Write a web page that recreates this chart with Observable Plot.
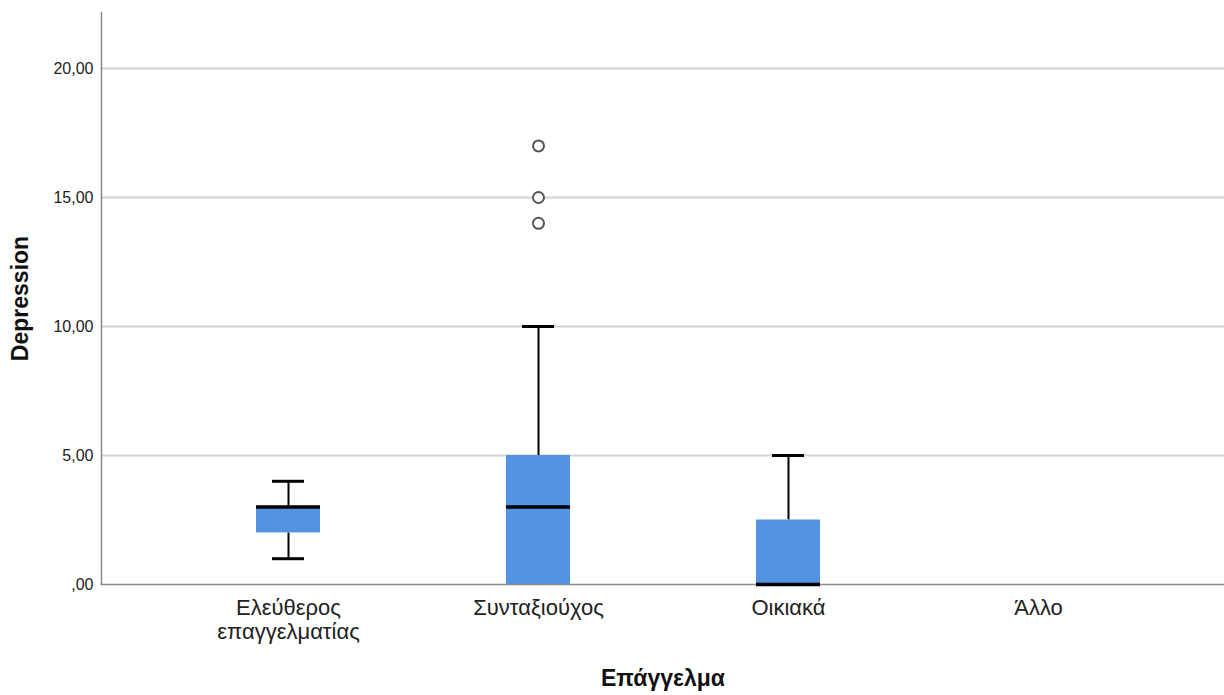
<!DOCTYPE html>
<html>
<head>
<meta charset="utf-8">
<script src="https://cdn.jsdelivr.net/npm/d3@7"></script>
<script src="https://cdn.jsdelivr.net/npm/@observablehq/plot@0.6"></script>
<style>
  html, body { margin: 0; padding: 0; background: #fff; }
  #chart svg { display: block; }
</style>
</head>
<body>
<div id="chart"></div>
<script>
// Occupation groups and their tick labels (two lines for the first one)
const categories = ["Ελεύθερος επαγγελματίας", "Συνταξιούχος", "Οικιακά", "Άλλο"];
const tickLabels = ["Ελεύθερος\nεπαγγελματίας", "Συνταξιούχος", "Οικιακά", "Άλλο"];

// Five-number summaries of Depression per group (null = no cases)
const whiskerLow  = [1, 0, 0, null];
const quartile1   = [2, 0, 0, null];
const medians     = [3, 3, 0, null];
const quartile3   = [3, 5, 2.5, null];
const whiskerHigh = [4, 10, 5, null];

// Outliers
const outlierGroup  = ["Συνταξιούχος", "Συνταξιούχος", "Συνταξιούχος"];
const outlierValues = [14, 15, 17];

const yTicks = [0, 5, 10, 15, 20];
const gridValues = [5, 10, 15, 20];

const boxes = categories.map((c, i) => ({
  cat: c, low: whiskerLow[i], q1: quartile1[i], med: medians[i], q3: quartile3[i], high: whiskerHigh[i]
})).filter(d => d.med !== null);
const outliers = outlierGroup.map((c, i) => ({cat: c, value: outlierValues[i]}));

const fmt = v => v === 0 ? ",00" : v.toFixed(2).replace(".", ",");

const chart = Plot.plot({
  width: 1224,
  height: 695,
  marginLeft: 101,
  marginRight: 0,
  marginTop: 12,
  marginBottom: 111,
  style: {fontFamily: "'Liberation Sans', Arial, sans-serif", background: "#fff"},
  x: {domain: categories, paddingInner: 0.744, paddingOuter: 0.618, align: 0.5, axis: null},
  y: {domain: [0, 22.17], axis: null},
  marks: [
    Plot.ruleY(gridValues, {stroke: "#d2d2d2", strokeWidth: 2}),
    Plot.axisY(yTicks, {tickSize: 0, tickPadding: 8, tickFormat: fmt, fontSize: 16, fill: "#222", label: null}),
    // whiskers
    Plot.ruleX(boxes, {x: "cat", y1: "q3", y2: "high", stroke: "#000", strokeWidth: 2}),
    Plot.ruleX(boxes.filter(d => d.low < d.q1), {x: "cat", y1: "low", y2: "q1", stroke: "#000", strokeWidth: 2}),
    Plot.tickY(boxes.filter(d => d.high > d.q3), {x: "cat", y: "high", insetLeft: 16, insetRight: 16, stroke: "#000", strokeWidth: 3}),
    Plot.tickY(boxes.filter(d => d.low < d.q1), {x: "cat", y: "low", insetLeft: 16, insetRight: 16, stroke: "#000", strokeWidth: 3}),
    // boxes
    Plot.barY(boxes, {x: "cat", y1: "q1", y2: "q3", fill: "#5294e2"}),
    // axis lines
    Plot.frame({anchor: "left", stroke: "#8a8a8a", strokeWidth: 1.5}),
    Plot.frame({anchor: "bottom", stroke: "#8a8a8a", strokeWidth: 1.5}),
    // medians
    Plot.tickY(boxes, {x: "cat", y: "med", stroke: "#000", strokeWidth: 3.5}),
    // outliers
    Plot.dot(outliers, {x: "cat", y: "value", r: 5.5, stroke: "#555", strokeWidth: 2, fill: "#fff"}),
    // category labels
    Plot.text(categories, {x: d => d, text: (d, i) => tickLabels[i], frameAnchor: "bottom", dy: 13, lineAnchor: "top", fontSize: 22, lineHeight: 1.09, fill: "#222"}),
    // axis titles
    Plot.text(["Επάγγελμα"], {frameAnchor: "bottom", dy: 94, lineAnchor: "middle", fontSize: 23, fontWeight: "bold", fill: "#111"}),
    Plot.text(["Depression"], {frameAnchor: "left", dx: -81, rotate: -90, textAnchor: "middle", fontSize: 23, fontWeight: "bold", fill: "#111"})
  ]
});
document.getElementById("chart").appendChild(chart);
</script>
</body>
</html>
